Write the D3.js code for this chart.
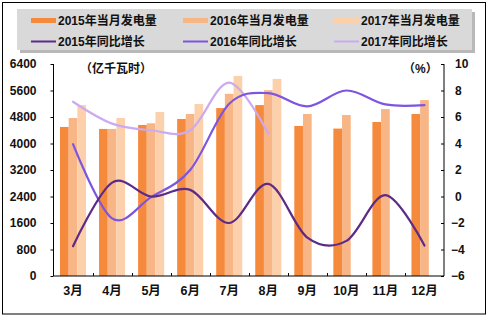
<!DOCTYPE html>
<html><head><meta charset="utf-8">
<script src="https://cdn.jsdelivr.net/npm/d3@7"></script>
<style>
html,body{margin:0;padding:0;background:#fff;}
svg text{font-family:"Liberation Sans","Noto Sans CJK SC",Arial,sans-serif;font-weight:bold;fill:#111;}
</style></head>
<body><svg id="c" width="494" height="326"></svg>
<script>
const months = ["3月","4月","5月","6月","7月","8月","9月","10月","11月","12月"];
const gen2015 = [4500, 4440, 4560, 4740, 5070, 5160, 4530, 4450, 4650, 4890];
const gen2016 = [4770, 4440, 4610, 4890, 5500, 5610, 4890, 4860, 5040, 5310];
const gen2017 = [5160, 4770, 4950, 5190, 6040, 5950, null, null, null, null];
const yoy2015 = [-3.75, 1.05, 0.0, 0.5, -2.0, 0.95, -3.1, -3.35, 0.1, -3.7];
const yoy2016 = [3.95, -1.65, -0.05, 2.0, 7.0, 7.8, 6.8, 8.0, 6.95, 6.9];
const yoy2017 = [7.15, 5.5, 5.0, 5.0, 8.6, 4.75, null, null, null, null];
const leftTicks = [0, 800, 1600, 2400, 3200, 4000, 4800, 5600, 6400];
const rightTicks = [-6, -4, -2, 0, 2, 4, 6, 8, 10];
const barNames = ["2015年当月发电量","2016年当月发电量","2017年当月发电量"];
const lineNames = ["2015年同比增长","2016年同比增长","2017年同比增长"];
const barColors = ["#F58A3C","#F8B585","#FCD0AA"];
const lineColors = ["#5C2A87","#7D55E0","#CBAAF0"];

const svg = d3.select("#c");
const L = 53.5, R = 444, T = 64, B = 276;

// outer frame
svg.append("rect").attr("x",2.5).attr("y",2.5).attr("width",483).attr("height",311.5)
  .attr("fill","none").attr("stroke","#000").attr("stroke-width",1);

const x = d3.scaleBand().domain(months).range([L, R]).paddingInner(0).paddingOuter(0);
const xs = d3.scaleBand().domain([0,1,2]).range([0, x.bandwidth()*0.667]);
const yL = d3.scaleLinear().domain([0, 6400]).range([B, T]);
const yR = d3.scaleLinear().domain([-6, 10]).range([B, T]);

// bars
const barSeries = [gen2015, gen2016, gen2017];
barSeries.forEach((s, k) => {
  svg.append("g").selectAll("rect").data(months.map((m,i)=>({m, v:s[i]})).filter(d=>d.v!=null))
    .join("rect")
    .attr("x", d => x(d.m) + x.bandwidth()*0.1665 + xs(k))
    .attr("width", xs.bandwidth())
    .attr("y", d => yL(d.v))
    .attr("height", d => B - yL(d.v))
    .attr("fill", barColors[k]);
});

// lines
const lineSeries = [yoy2015, yoy2016, yoy2017];
const lg = d3.line().defined(d=>d.v!=null)
  .x(d => x(d.m) + x.bandwidth()/2).y(d => yR(d.v))
  .curve(d3.curveCatmullRom.alpha(0));
[2,1,0].forEach(k => {
  const s = lineSeries[k];
  const data = months.map((m,i)=>({m, v:s[i]})).filter(d=>d.v!=null);
  svg.append("path").datum(data).attr("d", lg)
    .attr("fill","none").attr("stroke", lineColors[k]).attr("stroke-width", 2.2)
    .attr("stroke-linecap","round");
});

// axes
const axL = d3.axisLeft(yL).tickValues(leftTicks).tickSize(3).tickPadding(14).tickFormat(d3.format("d"));
const gL = svg.append("g").attr("transform",`translate(${L},0)`).call(axL);
const axR = d3.axisRight(yR).tickValues(rightTicks).tickSize(0).tickPadding(11).tickFormat(d3.format("d"));
const gR = svg.append("g").attr("transform",`translate(${R},0)`).call(axR);
gR.selectAll(".tick").append("line").attr("x1",-3).attr("x2",0).attr("stroke","#000");
gR.selectAll(".tick text").attr("dx", d => d < 0 ? -4 : 0);
const axB = d3.axisBottom(x).tickSize(0).tickPadding(10);
const gB = svg.append("g").attr("transform",`translate(0,${B})`).call(axB);
// category boundary ticks
svg.append("g").selectAll("line").data(months.slice(1)).join("line")
  .attr("x1", d => Math.round(x(d))+0.5).attr("x2", d => Math.round(x(d))+0.5)
  .attr("y1", B-3).attr("y2", B).attr("stroke","#000");

[gL,gR,gB].forEach(g => {
  g.select(".domain").attr("stroke","#000").attr("stroke-width",1);
  g.selectAll(".tick line").attr("stroke","#000");
  g.selectAll(".tick text").style("font-size","12px").style("font-family",'"Liberation Sans","Noto Sans CJK SC",sans-serif').style("font-weight","bold").attr("fill","#111");
});
gL.select(".domain").attr("d", `M0,${T}V${B}`);
gR.select(".domain").attr("d", `M0,${T}V${B}`);
gB.select(".domain").attr("d", `M${L},0H${R}`);
gB.selectAll(".tick text").style("font-size","12.5px");

// unit labels
svg.append("text").attr("x",80).attr("y",73).style("font-size","12px").text("（亿千瓦时）");
svg.append("text").attr("x",403).attr("y",73).style("font-size","12px").text("（%）");

// legend
const lgd = svg.append("g");
lgd.append("rect").attr("x",20).attr("y",12).attr("width",455).attr("height",41).attr("fill","#A6A6A6").attr("opacity",0.8);
lgd.append("rect").attr("x",17).attr("y",9).attr("width",455).attr("height",41).attr("fill","#D9D9D9");
const colX = [31, 183, 334];
barNames.forEach((n,k) => {
  lgd.append("rect").attr("x",colX[k]).attr("y",18).attr("width",25).attr("height",5).attr("fill",barColors[k]);
  lgd.append("text").attr("x",colX[k]+27).attr("y",25).style("font-size","12px").text(n);
});
lineNames.forEach((n,k) => {
  lgd.append("line").attr("x1",colX[k]).attr("x2",colX[k]+25).attr("y1",41.5).attr("y2",41.5)
    .attr("stroke",lineColors[k]).attr("stroke-width",2);
  lgd.append("text").attr("x",colX[k]+27).attr("y",46).style("font-size","12px").text(n);
});
</script></body></html>
